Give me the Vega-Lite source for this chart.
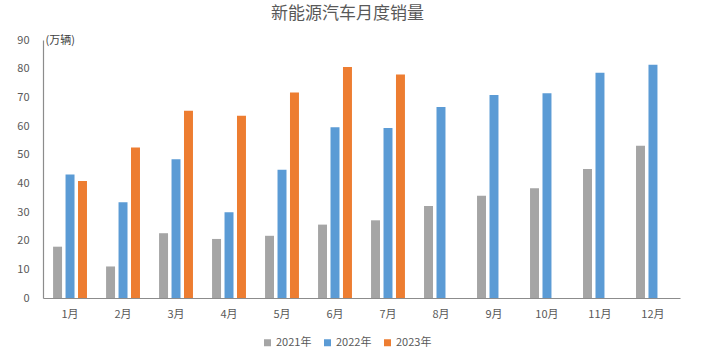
{
  "$schema": "https://vega.github.io/schema/vega-lite/v6.json",
  "autosize": {"type": "none"},
  "width": 637,
  "height": 258,
  "padding": {"left": 43, "top": 40, "right": 25, "bottom": 58},
  "background": "white",
  "title": {
    "text": "新能源汽车月度销量",
    "font": "Noto Sans CJK SC",
    "fontSize": 17,
    "fontWeight": "normal",
    "color": "#595959",
    "anchor": "middle",
    "dx": -14,
    "offset": 11
  },
  "data": {
    "values": [
      {"month": "1月", "year": "2021年", "sales": 17.9},
      {"month": "1月", "year": "2022年", "sales": 43.1},
      {"month": "1月", "year": "2023年", "sales": 40.8},
      {"month": "2月", "year": "2021年", "sales": 11.0},
      {"month": "2月", "year": "2022年", "sales": 33.4},
      {"month": "2月", "year": "2023年", "sales": 52.5},
      {"month": "3月", "year": "2021年", "sales": 22.6},
      {"month": "3月", "year": "2022年", "sales": 48.4},
      {"month": "3月", "year": "2023年", "sales": 65.3},
      {"month": "4月", "year": "2021年", "sales": 20.6},
      {"month": "4月", "year": "2022年", "sales": 29.9},
      {"month": "4月", "year": "2023年", "sales": 63.6},
      {"month": "5月", "year": "2021年", "sales": 21.7},
      {"month": "5月", "year": "2022年", "sales": 44.7},
      {"month": "5月", "year": "2023年", "sales": 71.7},
      {"month": "6月", "year": "2021年", "sales": 25.6},
      {"month": "6月", "year": "2022年", "sales": 59.6},
      {"month": "6月", "year": "2023年", "sales": 80.6},
      {"month": "7月", "year": "2021年", "sales": 27.1},
      {"month": "7月", "year": "2022年", "sales": 59.3},
      {"month": "7月", "year": "2023年", "sales": 78.0},
      {"month": "8月", "year": "2021年", "sales": 32.1},
      {"month": "8月", "year": "2022年", "sales": 66.6},
      {"month": "9月", "year": "2021年", "sales": 35.7},
      {"month": "9月", "year": "2022年", "sales": 70.8},
      {"month": "10月", "year": "2021年", "sales": 38.3},
      {"month": "10月", "year": "2022年", "sales": 71.4},
      {"month": "11月", "year": "2021年", "sales": 45.0},
      {"month": "11月", "year": "2022年", "sales": 78.6},
      {"month": "12月", "year": "2021年", "sales": 53.1},
      {"month": "12月", "year": "2022年", "sales": 81.4}
    ]
  },
  "mark": {"type": "bar"},
  "encoding": {
    "x": {
      "field": "month",
      "type": "nominal",
      "sort": ["1月","2月","3月","4月","5月","6月","7月","8月","9月","10月","11月","12月"],
      "scale": {"paddingInner": 0.36, "paddingOuter": 0.19},
      "axis": {
        "title": null,
        "labelAngle": 0,
        "ticks": false,
        "labelPadding": 10,
        "labelFont": "Noto Sans CJK SC",
        "labelFontSize": 11,
        "labelColor": "#595959",
        "domainColor": "#8C8C8C",
        "domainWidth": 1.2
      }
    },
    "xOffset": {
      "field": "year",
      "type": "nominal",
      "scale": {"paddingInner": 0.28, "paddingOuter": 0}
    },
    "y": {
      "field": "sales",
      "type": "quantitative",
      "scale": {"domain": [0, 90], "nice": false},
      "axis": {
        "values": [0,10,20,30,40,50,60,70,80,90],
        "grid": false,
        "ticks": false,
        "labelPadding": 14,
        "labelFont": "Noto Sans CJK SC",
        "labelFontSize": 11,
        "labelColor": "#595959",
        "domainColor": "#8C8C8C",
        "domainWidth": 1.2,
        "title": "(万辆)",
        "titleAngle": 0,
        "titleX": 2,
        "titleY": 0,
        "titleAlign": "left",
        "titleBaseline": "middle",
        "titleFont": "Noto Sans CJK SC",
        "titleFontSize": 11,
        "titleFontWeight": "normal",
        "titleColor": "#404040"
      }
    },
    "color": {
      "field": "year",
      "type": "nominal",
      "scale": {"domain": ["2021年","2022年","2023年"], "range": ["#A5A5A5","#5B9BD5","#ED7D31"]},
      "legend": {
        "title": null,
        "orient": "none",
        "direction": "horizontal",
        "legendX": 219,
        "legendY": 297,
        "symbolType": "square",
        "symbolSize": 49,
        "symbolStrokeWidth": 0,
        "labelFont": "Noto Sans CJK SC",
        "labelFontSize": 11,
        "labelColor": "#595959",
        "labelOffset": 3,
        "columnPadding": 10
      }
    }
  },
  "config": {"view": {"stroke": null}}
}
